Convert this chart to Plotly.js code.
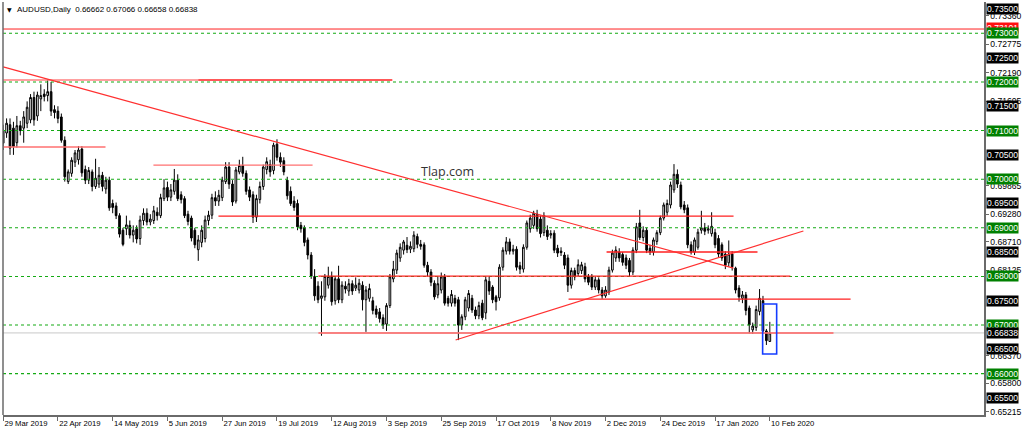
<!DOCTYPE html>
<html>
<head>
<meta charset="utf-8">
<script src="https://cdn.plot.ly/plotly-3.0.1.min.js"></script>
<style>
html,body{margin:0;padding:0;background:#fff;}
#chart{width:1024px;height:433px;}
</style>
</head>
<body>
<div id="chart"></div>
<script>
// ---- Daily OHLC, AUDUSD (bar index 0 = 29 Mar 2019) ----
var openP = [
0.7101,0.7095,0.7112,0.7105,0.7075,0.7110,0.7105,0.7115,0.7122,0.7168,
0.7130,0.7165,0.7175,0.7172,0.7180,0.7143,0.7140,0.7128,0.7080,0.6995,
0.7012,0.7035,0.7040,0.7062,0.7020,0.6998,0.7015,0.6985,0.6990,0.7008,
0.6980,0.6998,0.6950,0.6945,0.6925,0.6895,0.6898,0.6905,0.6885,0.6898,
0.6878,0.6915,0.6930,0.6912,0.6915,0.6932,0.6925,0.6960,0.6983,0.6963,
0.6975,0.6998,0.6968,0.6960,0.6928,0.6920,0.6895,0.6855,0.6870,0.6878,
0.6915,0.6926,0.6962,0.6955,0.6962,0.6995,0.7025,0.6990,0.6955,0.7015,
0.7028,0.7012,0.6978,0.6968,0.6922,0.6958,0.6985,0.7020,0.7030,0.7018,
0.7072,0.7045,0.7038,0.6998,0.6975,0.6955,0.6950,0.6905,0.6900,0.6875,
0.6844,0.6800,0.6780,0.6755,0.6758,0.6782,0.6800,0.6750,0.6795,0.6752,
0.6780,0.6770,0.6785,0.6776,0.6772,0.6782,0.6752,0.6755,0.6750,0.6733,
0.6727,0.6715,0.6702,0.6740,0.6795,0.6813,0.6838,0.6854,0.6864,0.6856,
0.6857,0.6882,0.6866,0.6865,0.6823,0.6809,0.6786,0.6762,0.6772,0.6799,
0.6755,0.6745,0.6755,0.6752,0.6700,0.6717,0.6735,0.6755,0.6731,0.6719,
0.6745,0.6725,0.6790,0.6778,0.6758,0.6756,0.6819,0.6852,0.6871,0.6852,
0.6856,0.6822,0.6815,0.6860,0.6898,0.6905,0.6928,0.6918,0.6890,0.6895,
0.6885,0.6889,0.6858,0.6852,0.6844,0.6838,0.6782,0.6812,0.6806,0.6812,
0.6820,0.6800,0.6800,0.6778,0.6793,0.6772,0.6760,0.6768,0.6813,0.6838,
0.6850,0.6845,0.6838,0.6833,0.6809,0.6854,0.6910,0.6880,0.6895,0.6858,
0.6850,0.6872,0.6890,0.6920,0.6932,0.6947,0.6978,0.7010,0.6988,0.6947,
0.6941,0.6865,0.6850,0.6860,0.6895,0.6900,0.6895,0.6888,0.6890,0.6878,
0.6865,0.6846,0.6828,0.6846,0.6817,0.6776,0.6755,0.6762,0.6735,0.6690,
0.6695,0.6728,0.6750,0.6688,0.66662
];
var highP = [
0.7112,0.7125,0.7125,0.7118,0.7130,0.7120,0.7140,0.7160,0.7175,0.7180,
0.7180,0.7195,0.7185,0.7205,0.7200,0.7152,0.7150,0.7135,0.7088,0.7020,
0.7045,0.7060,0.7068,0.7068,0.7028,0.7025,0.7020,0.7042,0.7025,0.7015,
0.7005,0.7005,0.6958,0.6952,0.6930,0.6900,0.6925,0.6915,0.6905,0.6905,
0.6925,0.6940,0.6940,0.6928,0.6945,0.6942,0.6970,0.7000,0.6995,0.6990,
0.7021,0.7010,0.6975,0.6965,0.6935,0.6925,0.6900,0.6885,0.6905,0.6925,
0.6935,0.6970,0.6975,0.6978,0.7005,0.7035,0.7035,0.6998,0.7025,0.7040,
0.7046,0.7018,0.6985,0.6975,0.6968,0.6995,0.7030,0.7045,0.7040,0.7075,
0.7082,0.7055,0.7045,0.7005,0.6985,0.6965,0.6958,0.6912,0.6905,0.6880,
0.6850,0.6815,0.6790,0.6790,0.6805,0.6820,0.6810,0.6800,0.6822,0.6790,
0.6790,0.6795,0.6792,0.6798,0.6795,0.6790,0.6780,0.6785,0.6758,0.6740,
0.6735,0.6722,0.6745,0.6805,0.6832,0.6855,0.6868,0.6875,0.6881,0.6872,
0.6893,0.6888,0.6875,0.6870,0.6830,0.6815,0.6792,0.6800,0.6808,0.6805,
0.6760,0.6772,0.6762,0.6758,0.6722,0.6758,0.6772,0.6762,0.6738,0.6748,
0.6752,0.6800,0.6800,0.6782,0.6762,0.6825,0.6860,0.6881,0.6878,0.6865,
0.6862,0.6830,0.6866,0.6915,0.6927,0.6935,0.6937,0.6925,0.6932,0.6905,
0.6895,0.6895,0.6865,0.6860,0.6850,0.6845,0.6818,0.6818,0.6835,0.6830,
0.6828,0.6805,0.6805,0.6800,0.6798,0.6778,0.6780,0.6820,0.6855,0.6862,
0.6858,0.6850,0.6845,0.6838,0.6860,0.6910,0.6937,0.6903,0.6900,0.6865,
0.6880,0.6895,0.6925,0.6952,0.6958,0.6995,0.7031,0.7020,0.6995,0.6955,
0.6948,0.6872,0.6880,0.6898,0.6935,0.6910,0.6905,0.6932,0.6898,0.6885,
0.6870,0.6852,0.6874,0.6852,0.6820,0.6782,0.6770,0.6768,0.6740,0.6705,
0.6740,0.6774,0.6760,0.6692,0.67066
];
var lowP = [
0.7060,0.7085,0.7050,0.7050,0.7065,0.7090,0.7075,0.7105,0.7115,0.7110,
0.7120,0.7140,0.7160,0.7160,0.7130,0.7125,0.7115,0.7075,0.6995,0.6990,
0.7005,0.7025,0.7030,0.7005,0.6990,0.6990,0.6975,0.6980,0.6982,0.6975,
0.6970,0.6935,0.6930,0.6918,0.6880,0.6862,0.6885,0.6878,0.6870,0.6868,
0.6865,0.6905,0.6905,0.6905,0.6908,0.6915,0.6920,0.6955,0.6955,0.6955,
0.6968,0.6955,0.6950,0.6920,0.6905,0.6872,0.6858,0.6832,0.6860,0.6870,
0.6905,0.6918,0.6945,0.6945,0.6955,0.6990,0.6980,0.6945,0.6950,0.7010,
0.7005,0.6968,0.6955,0.6910,0.6912,0.6950,0.6978,0.7010,0.7005,0.7010,
0.7038,0.7025,0.7008,0.6958,0.6945,0.6935,0.6895,0.6890,0.6862,0.6835,
0.6795,0.6750,0.6745,0.6678,0.6750,0.6775,0.6740,0.6742,0.6745,0.6745,
0.6765,0.6760,0.6762,0.6770,0.6765,0.6730,0.6686,0.6748,0.6722,0.6715,
0.6705,0.6692,0.6688,0.6735,0.6788,0.6805,0.6830,0.6845,0.6848,0.6848,
0.6850,0.6858,0.6855,0.6818,0.6800,0.6780,0.6752,0.6755,0.6765,0.6740,
0.6738,0.6738,0.6738,0.6669,0.6690,0.6710,0.6728,0.6725,0.6712,0.6712,
0.6710,0.6712,0.6762,0.6745,0.6730,0.6750,0.6812,0.6845,0.6845,0.6845,
0.6812,0.6805,0.6808,0.6855,0.6890,0.6898,0.6892,0.6880,0.6883,0.6875,
0.6878,0.6848,0.6840,0.6842,0.6815,0.6768,0.6775,0.6792,0.6800,0.6805,
0.6788,0.6782,0.6772,0.6772,0.6765,0.6754,0.6756,0.6762,0.6808,0.6830,
0.6830,0.6822,0.6815,0.6800,0.6803,0.6848,0.6875,0.6872,0.6848,0.6844,
0.6843,0.6865,0.6885,0.6915,0.6925,0.6940,0.6972,0.6982,0.6938,0.6930,
0.6858,0.6845,0.6844,0.6855,0.6888,0.6885,0.6888,0.6882,0.6858,0.6840,
0.6832,0.6815,0.6820,0.6812,0.6765,0.6748,0.6745,0.6720,0.6683,0.6682,
0.6688,0.6720,0.6682,0.6659,0.66658
];
var closeP = [
0.7074,0.7115,0.7064,0.7067,0.7110,0.7100,0.7128,0.7148,0.7168,0.7122,
0.7173,0.7172,0.7170,0.7180,0.7140,0.7137,0.7125,0.7080,0.7005,0.7015,
0.7039,0.7054,0.7060,0.7013,0.6998,0.7018,0.6985,0.7002,0.7008,0.6985,
0.6998,0.6941,0.6942,0.6925,0.6887,0.6866,0.6906,0.6885,0.6895,0.6877,
0.6916,0.6930,0.6912,0.6918,0.6935,0.6925,0.6962,0.6982,0.6963,0.6978,
0.6998,0.6960,0.6958,0.6925,0.6913,0.6879,0.6865,0.6875,0.6895,0.6916,
0.6926,0.6962,0.6955,0.6967,0.6998,0.7025,0.6990,0.6953,0.7019,0.7028,
0.7012,0.6975,0.6963,0.6922,0.6960,0.6985,0.7025,0.7036,0.7015,0.7070,
0.7045,0.7035,0.7015,0.6966,0.6950,0.6942,0.6902,0.6898,0.6870,0.6844,
0.6800,0.6760,0.6752,0.6760,0.6800,0.6800,0.6748,0.6795,0.6752,0.6782,
0.6774,0.6785,0.6770,0.6782,0.6786,0.6752,0.6772,0.6775,0.6730,0.6722,
0.6713,0.6700,0.6740,0.6799,0.6815,0.6848,0.6860,0.6871,0.6855,0.6862,
0.6885,0.6866,0.6862,0.6823,0.6809,0.6788,0.6758,0.6785,0.6799,0.6745,
0.6745,0.6763,0.6745,0.6700,0.6717,0.6752,0.6765,0.6731,0.6719,0.6740,
0.6715,0.6793,0.6770,0.6752,0.6748,0.6819,0.6854,0.6871,0.6852,0.6856,
0.6819,0.6815,0.6860,0.6910,0.6920,0.6930,0.6898,0.6888,0.6925,0.6882,
0.6888,0.6854,0.6848,0.6849,0.6823,0.6782,0.6812,0.6799,0.6824,0.6824,
0.6795,0.6788,0.6778,0.6793,0.6772,0.6760,0.6772,0.6813,0.6848,0.6854,
0.6838,0.6829,0.6823,0.6809,0.6854,0.6902,0.6880,0.6895,0.6854,0.6850,
0.6875,0.6890,0.6920,0.6947,0.6950,0.6988,0.7010,0.6990,0.6943,0.6937,
0.6865,0.6850,0.6875,0.6891,0.6900,0.6893,0.6898,0.6903,0.6865,0.6846,
0.6838,0.6823,0.6846,0.6820,0.6772,0.6758,0.6762,0.6730,0.6700,0.6698,
0.6732,0.6755,0.6688,0.6668,0.66838
];

// ---- x axis date labels (every 16 bars) ----
var dateTickIdx = [0,16,32,48,64,80,96,112,128,144,160,176,192,208,224];
var dateTickLabels = ["29 Mar 2019","22 Apr 2019","14 May 2019","5 Jun 2019","27 Jun 2019",
  "19 Jul 2019","12 Aug 2019","3 Sep 2019","25 Sep 2019","17 Oct 2019","8 Nov 2019",
  "2 Dec 2019","24 Dec 2019","17 Jan 2020","10 Feb 2020"];

// ---- price scale labels (those visible in the reference) ----
var priceTicks = [0.73360,0.72775,0.72190,0.71605,0.69865,0.69280,
  0.68710,0.68125,0.66370,0.65800,0.65215];
var blackBoxLevels = [0.735,0.725,0.715,0.705,0.695,0.685,0.675,0.665,0.655];
var greenLevels = [0.73,0.72,0.71,0.70,0.69,0.68,0.67,0.66];
var redLevel = 0.7310;
var redLevelLabel = "0.73101";

// ---- drawn objects (bar index, price) ----
var hLinePrice = [0.72040,0.72040,0.70662,0.70291,0.69242,0.68008,0.66836,0.68502,0.67535];
var hLineStart = [0,57,0,43.9,62.9,92.1,92.1,176.3,165.2];
var hLineEnd   = [57,113.7,29.9,90.4,213.4,230.0,242.6,220.4,247.6];
var hLineColor = ["#ff8080","#ff2020","#ff7070","#ff7070","#ff2020","#ff2020","#ff6060","#ff2020","#ff2020"];
var trendLines = [
  [0, 0.7231, 213.4, 0.6817],
  [132.2, 0.66692, 233.8, 0.68934]
];
var boxX = [221.9, 226.0];
var boxY = [0.66404, 0.67433];

var title = "AUDUSD,Daily  0.66662 0.67066 0.66658 0.66838";
var watermark = "Tlap.com";

var FONT = "Liberation Sans, Arial, sans-serif";
var idx = closeP.map(function(_, i){ return i; });
var lastClose = closeP[closeP.length - 1];

var trace = {
  type: 'candlestick',
  x: idx, open: openP, high: highP, low: lowP, close: closeP,
  increasing: {line: {color: '#000000', width: 1}, fillcolor: '#ffffff'},
  decreasing: {line: {color: '#000000', width: 1}, fillcolor: '#000000'},
  whiskerwidth: 0,
  hoverinfo: 'skip',
  showlegend: false
};

var shapes = [];
// current price line
shapes.push({type:'line', xref:'paper', x0:0, x1:1, yref:'y', y0:lastClose, y1:lastClose,
  line:{color:'#c8c8c8', width:1}});
// green dashed level lines
greenLevels.forEach(function(v){
  shapes.push({type:'line', xref:'paper', x0:0, x1:1, yref:'y', y0:v, y1:v,
    line:{color:'rgb(20,170,20)', width:1.1, dash:'3px,3px'}});
});
// top red level
shapes.push({type:'line', xref:'paper', x0:0, x1:1, yref:'y', y0:0.73088, y1:0.73088,
  line:{color:'#ff2020', width:1}});
// horizontal red segments
hLinePrice.forEach(function(p, k){
  shapes.push({type:'line', xref:'x', yref:'y', x0:hLineStart[k], x1:hLineEnd[k], y0:p, y1:p,
    line:{color:hLineColor[k], width:1.3}});
});
// trend lines
trendLines.forEach(function(t){
  shapes.push({type:'line', xref:'x', yref:'y', x0:t[0], y0:t[1], x1:t[2], y1:t[3],
    line:{color:'#ff3030', width:1.2}});
});
// blue box
shapes.push({type:'rect', xref:'x', yref:'y', x0:boxX[0], x1:boxX[1], y0:boxY[0], y1:boxY[1],
  line:{color:'rgb(20,60,255)', width:1.6}, fillcolor:'rgba(0,0,0,0)'});
// left border
shapes.push({type:'line', xref:'paper', yref:'paper', x0:0, x1:0, y0:0, y1:1,
  line:{color:'#6a6a6a', width:1.5}});

var annotations = [];
function boxLabel(v, text, bg){
  annotations.push({xref:'paper', x:1, xanchor:'left', xshift:2, yref:'y', y:v, yanchor:'middle',
    text:text, showarrow:false, bgcolor:bg, borderpad:0,
    font:{family:FONT, size:8.6, color:'#ffffff'}});
}
boxLabel(redLevel, redLevelLabel, '#ff1010');
blackBoxLevels.forEach(function(v){ boxLabel(v, v.toFixed(5), '#000000'); });
greenLevels.forEach(function(v){ boxLabel(v, v.toFixed(5), 'rgb(0,128,0)'); });
boxLabel(lastClose, lastClose.toFixed(5), '#000000');

annotations.push({xref:'paper', yref:'paper', x:0, y:1, xanchor:'left', yanchor:'middle',
  xshift:2, yshift:-7, text:'▼', showarrow:false, font:{family:'DejaVu Sans', size:6, color:'#000'}});
annotations.push({xref:'paper', yref:'paper', x:0, y:1, xanchor:'left', yanchor:'middle',
  xshift:12, yshift:-7, text:title, showarrow:false, font:{family:FONT, size:8, color:'#000'}});
annotations.push({xref:'paper', yref:'paper', x:0.4533, y:0.5884, xanchor:'center', yanchor:'middle',
  text:watermark, showarrow:false, font:{family:'Open Sans, Liberation Sans, sans-serif', size:12.5, color:'#333333'}});

var layout = {
  width: 1024, height: 433,
  margin: {l:3, r:40, t:2, b:18, pad:0},
  paper_bgcolor: '#ffffff', plot_bgcolor: '#ffffff',
  showlegend: false,
  hovermode: false,
  dragmode: false,
  xaxis: {
    type: 'linear',
    range: [-0.05, 286.58],
    rangeslider: {visible: false},
    showgrid: false, zeroline: false,
    showline: true, linecolor: '#6a6a6a', linewidth: 1.5,
    ticks: 'outside', ticklen: 4, tickcolor: '#6a6a6a', tickwidth: 1,
    tickmode: 'array', tickvals: dateTickIdx, ticktext: dateTickLabels,
    ticklabelposition: 'outside right',
    tickfont: {family: FONT, size: 7.7, color: '#000'},
    fixedrange: true
  },
  yaxis: {
    side: 'right',
    range: [0.65150, 0.73644],
    showgrid: false, zeroline: false,
    showline: true, linecolor: '#6a6a6a', linewidth: 1.5,
    ticks: 'outside', ticklen: 3, tickcolor: '#6a6a6a',
    tickmode: 'array', tickvals: priceTicks,
    ticktext: priceTicks.map(function(v){ return v.toFixed(5); }),
    tickfont: {family: FONT, size: 8.6, color: '#000'},
    fixedrange: true
  },
  shapes: shapes,
  annotations: annotations
};

Plotly.newPlot('chart', [trace], layout, {staticPlot: true, displayModeBar: false});
</script>
</body>
</html>
